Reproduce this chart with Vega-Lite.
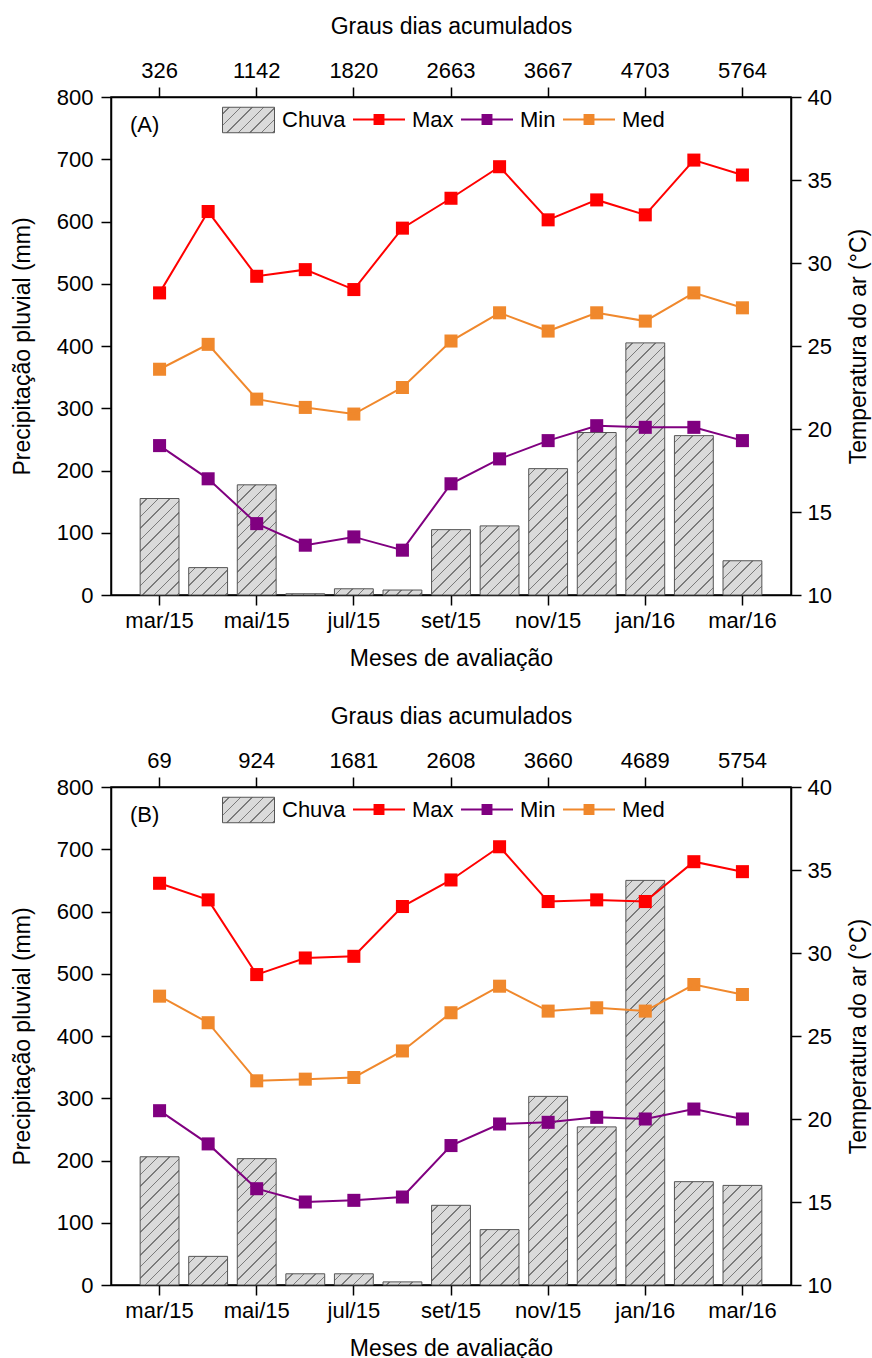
{
  "$schema": "https://vega.github.io/schema/vega-lite/v6.json",
  "padding": {"left": 10, "top": 14, "right": 2, "bottom": 0},
  "params": [
    {"name": "hatch", "value": [
      {"offset":0,"color":"#dadada"},
      {"offset":0.013,"color":"#dadada"},{"offset":0.013,"color":"#7a7a7a"},{"offset":0.0163,"color":"#7a7a7a"},{"offset":0.0163,"color":"#dadada"},
      {"offset":0.038,"color":"#dadada"},{"offset":0.038,"color":"#7a7a7a"},{"offset":0.0413,"color":"#7a7a7a"},{"offset":0.0413,"color":"#dadada"},
      {"offset":0.063,"color":"#dadada"},{"offset":0.063,"color":"#7a7a7a"},{"offset":0.0663,"color":"#7a7a7a"},{"offset":0.0663,"color":"#dadada"},
      {"offset":0.088,"color":"#dadada"},{"offset":0.088,"color":"#7a7a7a"},{"offset":0.0913,"color":"#7a7a7a"},{"offset":0.0913,"color":"#dadada"},
      {"offset":0.113,"color":"#dadada"},{"offset":0.113,"color":"#7a7a7a"},{"offset":0.1163,"color":"#7a7a7a"},{"offset":0.1163,"color":"#dadada"},
      {"offset":0.138,"color":"#dadada"},{"offset":0.138,"color":"#7a7a7a"},{"offset":0.1413,"color":"#7a7a7a"},{"offset":0.1413,"color":"#dadada"},
      {"offset":0.163,"color":"#dadada"},{"offset":0.163,"color":"#7a7a7a"},{"offset":0.1663,"color":"#7a7a7a"},{"offset":0.1663,"color":"#dadada"},
      {"offset":0.188,"color":"#dadada"},{"offset":0.188,"color":"#7a7a7a"},{"offset":0.1913,"color":"#7a7a7a"},{"offset":0.1913,"color":"#dadada"},
      {"offset":0.213,"color":"#dadada"},{"offset":0.213,"color":"#7a7a7a"},{"offset":0.2163,"color":"#7a7a7a"},{"offset":0.2163,"color":"#dadada"},
      {"offset":0.238,"color":"#dadada"},{"offset":0.238,"color":"#7a7a7a"},{"offset":0.2413,"color":"#7a7a7a"},{"offset":0.2413,"color":"#dadada"},
      {"offset":0.263,"color":"#dadada"},{"offset":0.263,"color":"#7a7a7a"},{"offset":0.2663,"color":"#7a7a7a"},{"offset":0.2663,"color":"#dadada"},
      {"offset":0.288,"color":"#dadada"},{"offset":0.288,"color":"#7a7a7a"},{"offset":0.2913,"color":"#7a7a7a"},{"offset":0.2913,"color":"#dadada"},
      {"offset":0.313,"color":"#dadada"},{"offset":0.313,"color":"#7a7a7a"},{"offset":0.3163,"color":"#7a7a7a"},{"offset":0.3163,"color":"#dadada"},
      {"offset":0.338,"color":"#dadada"},{"offset":0.338,"color":"#7a7a7a"},{"offset":0.3413,"color":"#7a7a7a"},{"offset":0.3413,"color":"#dadada"},
      {"offset":0.363,"color":"#dadada"},{"offset":0.363,"color":"#7a7a7a"},{"offset":0.3663,"color":"#7a7a7a"},{"offset":0.3663,"color":"#dadada"},
      {"offset":0.388,"color":"#dadada"},{"offset":0.388,"color":"#7a7a7a"},{"offset":0.3913,"color":"#7a7a7a"},{"offset":0.3913,"color":"#dadada"},
      {"offset":0.413,"color":"#dadada"},{"offset":0.413,"color":"#7a7a7a"},{"offset":0.4163,"color":"#7a7a7a"},{"offset":0.4163,"color":"#dadada"},
      {"offset":0.438,"color":"#dadada"},{"offset":0.438,"color":"#7a7a7a"},{"offset":0.4413,"color":"#7a7a7a"},{"offset":0.4413,"color":"#dadada"},
      {"offset":0.463,"color":"#dadada"},{"offset":0.463,"color":"#7a7a7a"},{"offset":0.4663,"color":"#7a7a7a"},{"offset":0.4663,"color":"#dadada"},
      {"offset":0.488,"color":"#dadada"},{"offset":0.488,"color":"#7a7a7a"},{"offset":0.4913,"color":"#7a7a7a"},{"offset":0.4913,"color":"#dadada"},
      {"offset":0.513,"color":"#dadada"},{"offset":0.513,"color":"#7a7a7a"},{"offset":0.5163,"color":"#7a7a7a"},{"offset":0.5163,"color":"#dadada"},
      {"offset":0.538,"color":"#dadada"},{"offset":0.538,"color":"#7a7a7a"},{"offset":0.5413,"color":"#7a7a7a"},{"offset":0.5413,"color":"#dadada"},
      {"offset":0.563,"color":"#dadada"},{"offset":0.563,"color":"#7a7a7a"},{"offset":0.5663,"color":"#7a7a7a"},{"offset":0.5663,"color":"#dadada"},
      {"offset":0.588,"color":"#dadada"},{"offset":0.588,"color":"#7a7a7a"},{"offset":0.5913,"color":"#7a7a7a"},{"offset":0.5913,"color":"#dadada"},
      {"offset":0.613,"color":"#dadada"},{"offset":0.613,"color":"#7a7a7a"},{"offset":0.6163,"color":"#7a7a7a"},{"offset":0.6163,"color":"#dadada"},
      {"offset":0.638,"color":"#dadada"},{"offset":0.638,"color":"#7a7a7a"},{"offset":0.6413,"color":"#7a7a7a"},{"offset":0.6413,"color":"#dadada"},
      {"offset":0.663,"color":"#dadada"},{"offset":0.663,"color":"#7a7a7a"},{"offset":0.6663,"color":"#7a7a7a"},{"offset":0.6663,"color":"#dadada"},
      {"offset":0.688,"color":"#dadada"},{"offset":0.688,"color":"#7a7a7a"},{"offset":0.6913,"color":"#7a7a7a"},{"offset":0.6913,"color":"#dadada"},
      {"offset":0.713,"color":"#dadada"},{"offset":0.713,"color":"#7a7a7a"},{"offset":0.7163,"color":"#7a7a7a"},{"offset":0.7163,"color":"#dadada"},
      {"offset":0.738,"color":"#dadada"},{"offset":0.738,"color":"#7a7a7a"},{"offset":0.7413,"color":"#7a7a7a"},{"offset":0.7413,"color":"#dadada"},
      {"offset":0.763,"color":"#dadada"},{"offset":0.763,"color":"#7a7a7a"},{"offset":0.7663,"color":"#7a7a7a"},{"offset":0.7663,"color":"#dadada"},
      {"offset":0.788,"color":"#dadada"},{"offset":0.788,"color":"#7a7a7a"},{"offset":0.7913,"color":"#7a7a7a"},{"offset":0.7913,"color":"#dadada"},
      {"offset":0.813,"color":"#dadada"},{"offset":0.813,"color":"#7a7a7a"},{"offset":0.8163,"color":"#7a7a7a"},{"offset":0.8163,"color":"#dadada"},
      {"offset":0.838,"color":"#dadada"},{"offset":0.838,"color":"#7a7a7a"},{"offset":0.8413,"color":"#7a7a7a"},{"offset":0.8413,"color":"#dadada"},
      {"offset":0.863,"color":"#dadada"},{"offset":0.863,"color":"#7a7a7a"},{"offset":0.8663,"color":"#7a7a7a"},{"offset":0.8663,"color":"#dadada"},
      {"offset":0.888,"color":"#dadada"},{"offset":0.888,"color":"#7a7a7a"},{"offset":0.8913,"color":"#7a7a7a"},{"offset":0.8913,"color":"#dadada"},
      {"offset":0.913,"color":"#dadada"},{"offset":0.913,"color":"#7a7a7a"},{"offset":0.9163,"color":"#7a7a7a"},{"offset":0.9163,"color":"#dadada"},
      {"offset":0.938,"color":"#dadada"},{"offset":0.938,"color":"#7a7a7a"},{"offset":0.9413,"color":"#7a7a7a"},{"offset":0.9413,"color":"#dadada"},
      {"offset":0.963,"color":"#dadada"},{"offset":0.963,"color":"#7a7a7a"},{"offset":0.9663,"color":"#7a7a7a"},{"offset":0.9663,"color":"#dadada"},
      {"offset":0.988,"color":"#dadada"},{"offset":0.988,"color":"#7a7a7a"},{"offset":0.9913,"color":"#7a7a7a"},{"offset":0.9913,"color":"#dadada"},
      {"offset":1,"color":"#dadada"}
    ]}
  ],
  "datasets": {
    "clima": [
      {"painel":"A","mes":"mar/15","chuva":155,"Max":28.2,"Min":19.0,"Med":23.6,"gdd":326},
      {"painel":"A","mes":"abr/15","chuva":44,"Max":33.1,"Min":17.0,"Med":25.1,"gdd":null},
      {"painel":"A","mes":"mai/15","chuva":177,"Max":29.2,"Min":14.3,"Med":21.8,"gdd":1142},
      {"painel":"A","mes":"jun/15","chuva":2,"Max":29.6,"Min":13.0,"Med":21.3,"gdd":null},
      {"painel":"A","mes":"jul/15","chuva":10,"Max":28.4,"Min":13.5,"Med":20.9,"gdd":1820},
      {"painel":"A","mes":"ago/15","chuva":8,"Max":32.1,"Min":12.7,"Med":22.5,"gdd":null},
      {"painel":"A","mes":"set/15","chuva":105,"Max":33.9,"Min":16.7,"Med":25.3,"gdd":2663},
      {"painel":"A","mes":"out/15","chuva":111,"Max":35.8,"Min":18.2,"Med":27.0,"gdd":null},
      {"painel":"A","mes":"nov/15","chuva":203,"Max":32.6,"Min":19.3,"Med":25.9,"gdd":3667},
      {"painel":"A","mes":"dez/15","chuva":261,"Max":33.8,"Min":20.2,"Med":27.0,"gdd":null},
      {"painel":"A","mes":"jan/16","chuva":405,"Max":32.9,"Min":20.1,"Med":26.5,"gdd":4703},
      {"painel":"A","mes":"fev/16","chuva":256,"Max":36.2,"Min":20.1,"Med":28.2,"gdd":null},
      {"painel":"A","mes":"mar/16","chuva":55,"Max":35.3,"Min":19.3,"Med":27.3,"gdd":5764},
      {"painel":"B","mes":"mar/15","chuva":206,"Max":34.2,"Min":20.5,"Med":27.4,"gdd":69},
      {"painel":"B","mes":"abr/15","chuva":46,"Max":33.2,"Min":18.5,"Med":25.8,"gdd":null},
      {"painel":"B","mes":"mai/15","chuva":203,"Max":28.7,"Min":15.8,"Med":22.3,"gdd":924},
      {"painel":"B","mes":"jun/15","chuva":18,"Max":29.7,"Min":15.0,"Med":22.4,"gdd":null},
      {"painel":"B","mes":"jul/15","chuva":18,"Max":29.8,"Min":15.1,"Med":22.5,"gdd":1681},
      {"painel":"B","mes":"ago/15","chuva":5,"Max":32.8,"Min":15.3,"Med":24.1,"gdd":null},
      {"painel":"B","mes":"set/15","chuva":128,"Max":34.4,"Min":18.4,"Med":26.4,"gdd":2608},
      {"painel":"B","mes":"out/15","chuva":89,"Max":36.4,"Min":19.7,"Med":28.0,"gdd":null},
      {"painel":"B","mes":"nov/15","chuva":303,"Max":33.1,"Min":19.8,"Med":26.5,"gdd":3660},
      {"painel":"B","mes":"dez/15","chuva":254,"Max":33.2,"Min":20.1,"Med":26.7,"gdd":null},
      {"painel":"B","mes":"jan/16","chuva":650,"Max":33.1,"Min":20.0,"Med":26.5,"gdd":4689},
      {"painel":"B","mes":"fev/16","chuva":166,"Max":35.5,"Min":20.6,"Med":28.1,"gdd":null},
      {"painel":"B","mes":"mar/16","chuva":160,"Max":34.9,"Min":20.0,"Med":27.5,"gdd":5754}
    ]
  },
  "config": {
    "font": "Liberation Sans",
    "view": {"stroke": "black", "strokeWidth": 1.5},
    "axis": {
      "grid": false, "domainColor": "black", "domainWidth": 1.5,
      "tickColor": "black", "tickWidth": 1.5, "tickSize": 10,
      "labelColor": "black", "titleColor": "black",
      "labelFont": "Liberation Sans", "titleFont": "Liberation Sans",
      "labelFontSize": 22, "titleFontSize": 23, "titleFontWeight": "normal"
    },
    "legend": {
      "labelFont": "Liberation Sans", "labelFontSize": 22, "labelColor": "black",
      "labelLimit": 300, "padding": 0, "labelOffset": 7, "columnPadding": 7
    }
  },
  "spacing": 33,
  "resolve": {"scale": {"color": "independent", "fill": "independent", "x": "independent", "y": "independent"}},
  "vconcat": [
    {
      "width": 680, "height": 498,
      "data": {"name": "clima"},
      "transform": [{"filter": "datum.painel === 'A'"}],
      "layer": [
        {
          "mark": {"type": "bar", "stroke": "#555555", "strokeWidth": 1},
          "encoding": {
            "x": {"field": "mes", "type": "ordinal",
              "scale": {"domain": ["mar/15","abr/15","mai/15","jun/15","jul/15","ago/15","set/15","out/15","nov/15","dez/15","jan/16","fev/16","mar/16"], "paddingInner": 0.2, "paddingOuter": 0.6},
              "axis": {"orient": "bottom", "values": ["mar/15","mai/15","jul/15","set/15","nov/15","jan/16","mar/16"], "labelAngle": 0, "labelPadding": 5, "title": "Meses de avaliação", "titlePadding": 16}},
            "y": {"field": "chuva", "type": "quantitative",
              "scale": {"domain": [0, 800], "nice": false, "zero": true},
              "axis": {"orient": "left", "values": [0,100,200,300,400,500,600,700,800], "labelPadding": 8, "title": "Precipitação pluvial (mm)", "titlePadding": 22}},
            "fill": {"datum": "Chuva", "type": "nominal",
              "scale": {"domain": ["Chuva"], "range": [{"expr": "{gradient:'linear',x1:0,y1:0,x2:7.132,y2:3.497,stops:hatch}"}]},
              "condition": {"test": "isValid(datum.chuva)", "value": {"expr": "{gradient:'linear',x1:0,y1:0,x2:460*38.86/(1510.1+pow(max(datum.chuva*0.6225,1),2)),y2:460*max(datum.chuva*0.6225,1)/(1510.1+pow(max(datum.chuva*0.6225,1),2)),stops:hatch}"}},
              "legend": {"orient": "none", "legendX": 111, "legendY": -3.5, "direction": "horizontal", "title": null,
                "symbolType": "M-1,-0.49H1V0.49H-1Z", "symbolSize": 2704, "symbolStrokeColor": "#555555", "symbolStrokeWidth": 1}}
          }
        },
        {
          "data": {"values": [{"rotulo": "(A)"}]},
          "mark": {"type": "text", "fontSize": 22, "dx": -15, "color": "black", "font": "Liberation Sans"},
          "encoding": {
            "x": {"datum": "mar/15", "type": "ordinal", "axis": null},
            "y": {"datum": 755, "type": "quantitative", "axis": null, "scale": {"domain": [0, 800], "nice": false, "zero": true}},
            "text": {"field": "rotulo"}
          }
        },
        {
          "transform": [{"fold": ["Max", "Min", "Med"], "as": ["serie", "temp"]}],
          "encoding": {
            "x": {"field": "mes", "type": "ordinal", "axis": null,
              "scale": {"domain": ["mar/15","abr/15","mai/15","jun/15","jul/15","ago/15","set/15","out/15","nov/15","dez/15","jan/16","fev/16","mar/16"], "paddingInner": 0.2, "paddingOuter": 0.6}},
            "y": {"field": "temp", "type": "quantitative",
              "scale": {"domain": [10, 40], "nice": false, "zero": false},
              "axis": {"orient": "right", "values": [10,15,20,25,30,35,40], "labelPadding": 6, "title": "Temperatura do ar (°C)", "titleAngle": -90, "titleBaseline": "top", "titlePadding": 16}},
            "color": {"field": "serie", "type": "nominal", "scale": {"domain": ["Max","Min","Med"], "range": ["#ff0000","#800080","#f0882c"]},
              "legend": {"orient": "none", "legendX": 242, "legendY": -3.5, "direction": "horizontal", "title": null,
                "symbolType": "M-1,-0.04H1V0.04H-1Z M-0.21,-0.21H0.21V0.21H-0.21Z", "symbolSize": 2704, "symbolStrokeWidth": 0, "symbolOpacity": 1}}
          },
          "layer": [
            {"mark": {"type": "square", "filled": true, "size": 170, "opacity": 1}},
            {"mark": {"type": "line", "strokeWidth": 2}}
          ]
        },
        {
          "mark": {"type": "point", "opacity": 0},
          "encoding": {
            "x": {"field": "mes", "type": "ordinal",
              "scale": {"domain": ["mar/15","abr/15","mai/15","jun/15","jul/15","ago/15","set/15","out/15","nov/15","dez/15","jan/16","fev/16","mar/16"], "paddingInner": 0.2, "paddingOuter": 0.6},
              "axis": {"orient": "top", "values": ["mar/15","mai/15","jul/15","set/15","nov/15","jan/16","mar/16"], "labelAngle": 0, "labelPadding": 5, "title": "Graus dias acumulados", "titlePadding": 21,
                "labelExpr": "{'mar/15':'326','mai/15':'1142','jul/15':'1820','set/15':'2663','nov/15':'3667','jan/16':'4703','mar/16':'5764'}[datum.value]"}}
          }
        }
      ],
      "resolve": {"scale": {"y": "independent"}, "axis": {"x": "independent"}}
    },
    {
      "width": 680, "height": 498,
      "data": {"name": "clima"},
      "transform": [{"filter": "datum.painel === 'B'"}],
      "layer": [
        {
          "mark": {"type": "bar", "stroke": "#555555", "strokeWidth": 1},
          "encoding": {
            "x": {"field": "mes", "type": "ordinal",
              "scale": {"domain": ["mar/15","abr/15","mai/15","jun/15","jul/15","ago/15","set/15","out/15","nov/15","dez/15","jan/16","fev/16","mar/16"], "paddingInner": 0.2, "paddingOuter": 0.6},
              "axis": {"orient": "bottom", "values": ["mar/15","mai/15","jul/15","set/15","nov/15","jan/16","mar/16"], "labelAngle": 0, "labelPadding": 5, "title": "Meses de avaliação", "titlePadding": 16}},
            "y": {"field": "chuva", "type": "quantitative",
              "scale": {"domain": [0, 800], "nice": false, "zero": true},
              "axis": {"orient": "left", "values": [0,100,200,300,400,500,600,700,800], "labelPadding": 8, "title": "Precipitação pluvial (mm)", "titlePadding": 22}},
            "fill": {"datum": "Chuva", "type": "nominal",
              "scale": {"domain": ["Chuva"], "range": [{"expr": "{gradient:'linear',x1:0,y1:0,x2:7.132,y2:3.497,stops:hatch}"}]},
              "condition": {"test": "isValid(datum.chuva)", "value": {"expr": "{gradient:'linear',x1:0,y1:0,x2:460*38.86/(1510.1+pow(max(datum.chuva*0.6225,1),2)),y2:460*max(datum.chuva*0.6225,1)/(1510.1+pow(max(datum.chuva*0.6225,1),2)),stops:hatch}"}},
              "legend": {"orient": "none", "legendX": 111, "legendY": -3.5, "direction": "horizontal", "title": null,
                "symbolType": "M-1,-0.49H1V0.49H-1Z", "symbolSize": 2704, "symbolStrokeColor": "#555555", "symbolStrokeWidth": 1}}
          }
        },
        {
          "data": {"values": [{"rotulo": "(B)"}]},
          "mark": {"type": "text", "fontSize": 22, "dx": -15, "color": "black", "font": "Liberation Sans"},
          "encoding": {
            "x": {"datum": "mar/15", "type": "ordinal", "axis": null},
            "y": {"datum": 755, "type": "quantitative", "axis": null, "scale": {"domain": [0, 800], "nice": false, "zero": true}},
            "text": {"field": "rotulo"}
          }
        },
        {
          "transform": [{"fold": ["Max", "Min", "Med"], "as": ["serie", "temp"]}],
          "encoding": {
            "x": {"field": "mes", "type": "ordinal", "axis": null,
              "scale": {"domain": ["mar/15","abr/15","mai/15","jun/15","jul/15","ago/15","set/15","out/15","nov/15","dez/15","jan/16","fev/16","mar/16"], "paddingInner": 0.2, "paddingOuter": 0.6}},
            "y": {"field": "temp", "type": "quantitative",
              "scale": {"domain": [10, 40], "nice": false, "zero": false},
              "axis": {"orient": "right", "values": [10,15,20,25,30,35,40], "labelPadding": 6, "title": "Temperatura do ar (°C)", "titleAngle": -90, "titleBaseline": "top", "titlePadding": 16}},
            "color": {"field": "serie", "type": "nominal", "scale": {"domain": ["Max","Min","Med"], "range": ["#ff0000","#800080","#f0882c"]},
              "legend": {"orient": "none", "legendX": 242, "legendY": -3.5, "direction": "horizontal", "title": null,
                "symbolType": "M-1,-0.04H1V0.04H-1Z M-0.21,-0.21H0.21V0.21H-0.21Z", "symbolSize": 2704, "symbolStrokeWidth": 0, "symbolOpacity": 1}}
          },
          "layer": [
            {"mark": {"type": "square", "filled": true, "size": 170, "opacity": 1}},
            {"mark": {"type": "line", "strokeWidth": 2}}
          ]
        },
        {
          "mark": {"type": "point", "opacity": 0},
          "encoding": {
            "x": {"field": "mes", "type": "ordinal",
              "scale": {"domain": ["mar/15","abr/15","mai/15","jun/15","jul/15","ago/15","set/15","out/15","nov/15","dez/15","jan/16","fev/16","mar/16"], "paddingInner": 0.2, "paddingOuter": 0.6},
              "axis": {"orient": "top", "values": ["mar/15","mai/15","jul/15","set/15","nov/15","jan/16","mar/16"], "labelAngle": 0, "labelPadding": 5, "title": "Graus dias acumulados", "titlePadding": 21,
                "labelExpr": "{'mar/15':'69','mai/15':'924','jul/15':'1681','set/15':'2608','nov/15':'3660','jan/16':'4689','mar/16':'5754'}[datum.value]"}}
          }
        }
      ],
      "resolve": {"scale": {"y": "independent"}, "axis": {"x": "independent"}}
    }
  ]
}
